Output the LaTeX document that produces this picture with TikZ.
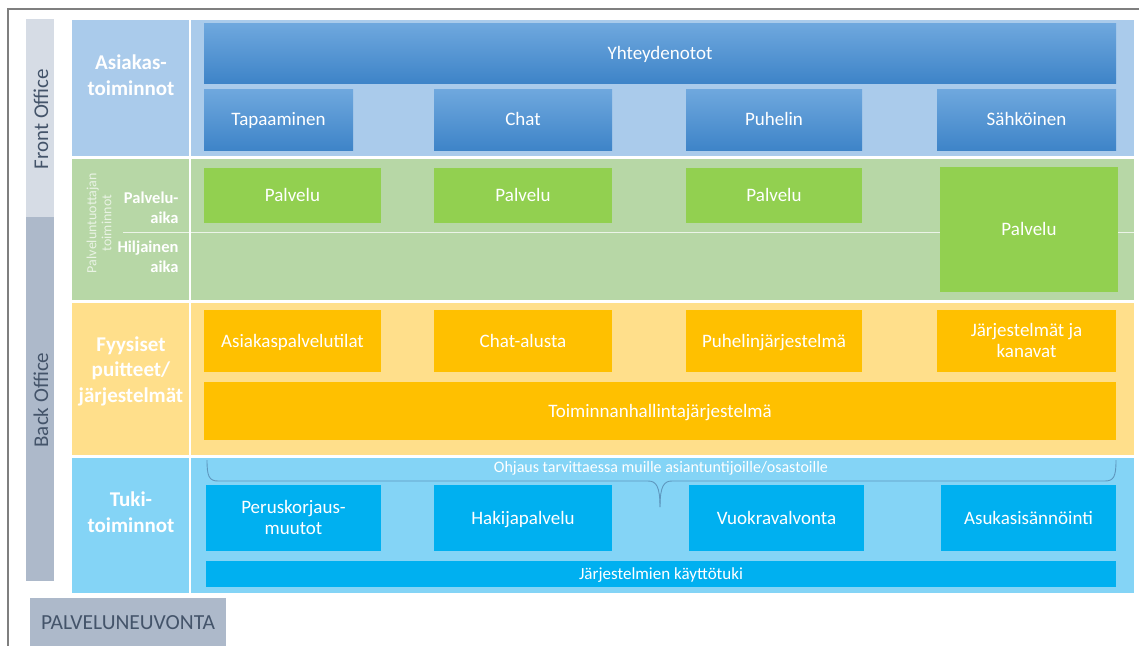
\documentclass[tikz,border=0pt]{standalone}
\usepackage{fontspec}
\setmainfont{Carlito}
\definecolor{frontbar}{HTML}{D6DCE5}
\definecolor{backbar}{HTML}{ADB9CA}
\definecolor{slate}{HTML}{44546A}
\definecolor{rowblue}{HTML}{AACBEB}
\definecolor{rowgreen}{HTML}{B7D7A6}
\definecolor{rowyellow}{HTML}{FFDF8B}
\definecolor{rowcyan}{HTML}{84D4F6}
\definecolor{boxtop}{HTML}{6FA8DE}
\definecolor{boxbot}{HTML}{3E84C8}
\definecolor{boxgreen}{HTML}{92D050}
\definecolor{boxorange}{HTML}{FFC000}
\definecolor{boxcyan}{HTML}{00B0F0}
\definecolor{framegray}{HTML}{7F7F7F}
\definecolor{bracecol}{HTML}{5E97BE}
\begin{document}
\begin{tikzpicture}[x=1pt,y=-1pt,
  plain/.style={rectangle, inner sep=0pt, outer sep=0pt},
  band/.style={plain, minimum width=1062pt},
  box/.style={plain, text=white, align=center, font=\fontsize{19}{21.5}\selectfont,
    text depth=1pt},
  gradbox/.style={box, top color=boxtop, bottom color=boxbot},
  greenbox/.style={box, fill=boxgreen},
  orangebox/.style={box, fill=boxorange},
  cyanbox/.style={box, fill=boxcyan},
  rowlabel/.style={text=white, align=center, font=\bfseries\fontsize{21}{25.5}\selectfont},
  sublabel/.style={text=white, align=right, font=\bfseries\fontsize{16.5}{20.5}\selectfont},
  sidebar/.style={plain, minimum width=28pt},
  sidetext/.style={rotate=90, text=slate, font=\fontsize{21}{24}\selectfont}]
\useasboundingbox (0,0) rectangle (1139,645);

% outer frame
\draw[framegray, line width=1.5pt] (8,660) -- (8,9) -- (1145,9);

% Front / Back office side bars
\node[sidebar, fill=frontbar, minimum height=198pt] (front) at (40,118) {};
\node[sidebar, fill=backbar, minimum height=364pt] (back) at (40,399) {};
\node[sidetext] (ftxt) at (41,119) {Front Office};
\node[sidetext] (btxt) at (41,400) {Back Office};

% row bands
\node[band, fill=rowblue, minimum height=136pt] (r1) at (603,88) {};
\node[band, fill=rowgreen, minimum height=141pt] (r2) at (603,229.5) {};
\node[band, fill=rowyellow, minimum height=152pt] (r3) at (603,379) {};
\node[band, fill=rowcyan, minimum height=135pt] (r4) at (603,525.5) {};
\draw[white, line width=1.2pt] (r1.north -| 190,0) -- (r4.south -| 190,0);
\draw[white, opacity=0.75, line width=1pt] (123,232) -- (r2.east |- 0,232);

% row labels
\node[rowlabel] (l1) at (131,75) {Asiakas-\\toiminnot};
\node[rowlabel] (l3) at (131,371) {Fyysiset\\puitteet/\\järjestelmät};
\node[rowlabel] (l4) at (131,512) {Tuki-\\toiminnot};
\node[sublabel, anchor=east] (pa) at (182,208) {Palvelu-\\aika};
\node[sublabel, anchor=east] (ha) at (182,257) {Hiljainen\\aika};
\node[rotate=90, text=white, opacity=0.7, align=center,
      font=\fontsize{14}{15}\selectfont] (pt) at (99,223) {Palveluntuottajan\\toiminnot};

% customer contacts
\node[gradbox, minimum width=912pt, minimum height=60pt] (yht) at (660,53) {Yhteydenotot};
\node[gradbox, minimum width=149pt, minimum height=61pt] (tap) at (278.5,119.5) {Tapaaminen};
\node[gradbox, minimum width=178pt, minimum height=61pt] (cht) at (523,119.5) {Chat};
\node[gradbox, minimum width=176pt, minimum height=61pt] (puh) at (774,119.5) {Puhelin};
\node[gradbox, minimum width=179pt, minimum height=61pt] (sah) at (1026.5,119.5) {Sähköinen};

% service producer
\node[greenbox, minimum width=177pt, minimum height=55pt] (p1) at (292.5,195.5) {Palvelu};
\node[greenbox, minimum width=178pt, minimum height=55pt] (p2) at (523,195.5) {Palvelu};
\node[greenbox, minimum width=176pt, minimum height=55pt] (p3) at (774,195.5) {Palvelu};
\node[greenbox, minimum width=178pt, minimum height=125pt] (p4) at (1029,229.5) {Palvelu};

% facilities / systems
\node[orangebox, minimum width=177pt, minimum height=62pt] (f1) at (292.5,341) {Asiakaspalvelutilat};
\node[orangebox, minimum width=178pt, minimum height=62pt] (f2) at (523,341) {Chat-alusta};
\node[orangebox, minimum width=176pt, minimum height=62pt] (f3) at (774,341) {Puhelinjärjestelmä};
\node[orangebox, minimum width=179pt, minimum height=62pt] (f4) at (1026.5,341) {Järjestelmät ja\\kanavat};
\node[orangebox, minimum width=912pt, minimum height=58pt] (f5) at (660,411) {Toiminnanhallintajärjestelmä};

% support functions
\node[text=white, font=\fontsize{16}{19}\selectfont] (ohj) at (661,468) {Ohjaus tarvittaessa muille asiantuntijoille/osastoille};
\node[cyanbox, minimum width=175pt, minimum height=66pt] (t1) at (293.5,518) {Peruskorjaus-\\muutot};
\node[cyanbox, minimum width=178pt, minimum height=66pt] (t2) at (523,518) {Hakijapalvelu};
\node[cyanbox, minimum width=175pt, minimum height=66pt] (t3) at (776.5,518) {Vuokravalvonta};
\node[cyanbox, minimum width=175pt, minimum height=66pt] (t4) at (1028.5,518) {Asukasisännöinti};
\node[cyanbox, minimum width=910pt, minimum height=26pt, font=\fontsize{17}{19}\selectfont] (t5) at (661,574) {Järjestelmien käyttötuki};

% brace under the routing note
\coordinate (bl) at (207,460);
\coordinate (br) at (1116,460);
\coordinate (bt) at (660,507);
\draw[bracecol, line width=0.9pt]
  (bl) .. controls (207,476) and (209,481) .. (218,481) -- (648,481)
  .. controls (656,481) and (660,486) .. (bt);
\draw[bracecol, line width=0.9pt]
  (br) .. controls (1116,476) and (1114,481) .. (1105,481) -- (672,481)
  .. controls (664,481) and (660,486) .. (bt);

% advisory service
\node[plain, fill=backbar, minimum width=196pt, minimum height=50pt, anchor=north west] (pn) at (30,598) {};
\node[text=slate, font=\fontsize{21.5}{24}\selectfont] (pntxt) at (128,623) {PALVELUNEUVONTA};
\end{tikzpicture}
\end{document}
